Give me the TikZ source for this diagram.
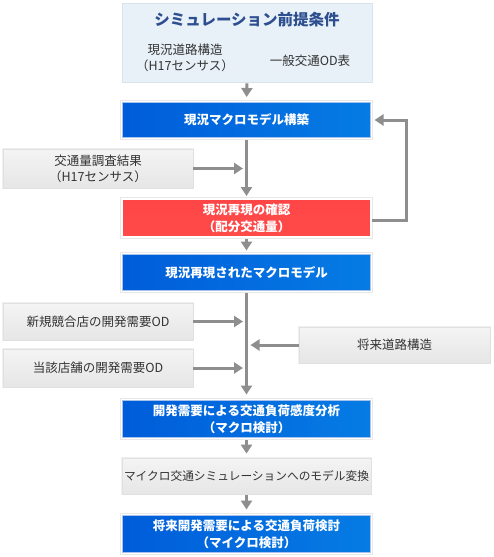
\documentclass[tikz,border=0pt]{standalone}
\usepackage{fontspec}
\setmainfont{Noto Sans CJK JP}
\usetikzlibrary{arrows.meta,fadings}
\definecolor{linegray}{HTML}{8E8E8E}
\definecolor{blueleft}{HTML}{0064E4}
\definecolor{blueright}{HTML}{0A94F4}
\definecolor{bluedark}{HTML}{0050C8}
\definecolor{redtop}{HTML}{FF4646}
\definecolor{redmid}{HTML}{FF6E6E}
\definecolor{redbot}{HTML}{FF4A4A}
\definecolor{graytop}{HTML}{F4F4F4}
\definecolor{graymid}{HTML}{F9F9F9}
\definecolor{graybot}{HTML}{E6E6E6}
\definecolor{grayedge}{HTML}{E0E0E0}
\definecolor{textgray}{HTML}{333333}
\definecolor{titleblue}{HTML}{2D4E8F}
\definecolor{premfill}{HTML}{E8F1F8}
\definecolor{premedge}{HTML}{D8E3EC}
\tikzfading[name=edgefade, top color=transparent!65, middle color=transparent!100, bottom color=transparent!65]
\begin{document}
\begin{tikzpicture}[x=1pt,y=-1pt,
  flow/.style={line width=3pt, draw=linegray, -{Triangle[width=11pt,length=9pt]}},
  framed/.style={preaction={draw=black!9, line width=4pt}, draw=white, line width=2pt},
  bluebox/.style={framed, rectangle, minimum width=249pt, left color=blueleft, right color=blueright,
     postaction={fill=bluedark, path fading=edgefade},
     text=white, font=\bfseries\fontsize{12.5pt}{17pt}\selectfont, align=center, inner sep=0pt},
  redbox/.style={framed, rectangle, minimum width=249pt, top color=redtop, middle color=redmid, bottom color=redbot,
     text=white, font=\bfseries\fontsize{12.5pt}{17pt}\selectfont, align=center, inner sep=0pt},
  graybox/.style={rectangle, preaction={draw=black!6, line width=2.5pt}, draw=grayedge, line width=0.8pt,
     top color=graytop, middle color=graymid, bottom color=graybot,
     text=textgray, font=\fontsize{12.5pt}{16pt}\selectfont, align=center, inner sep=0pt},
  premtext/.style={text=textgray, font=\fontsize{12.5pt}{16pt}\selectfont, align=center, inner sep=0pt}
]
\useasboundingbox (0,0) rectangle (493,557);
\fill[white] (0,0) rectangle (493,557);

% premise box
\node[rectangle, draw=premedge, fill=premfill, line width=0.8pt, minimum width=250pt, minimum height=79pt, inner sep=0pt] (prem) at (247,42.5) {};
\node[text=titleblue, font=\bfseries\fontsize{15.5pt}{18pt}\selectfont, inner sep=0pt] (title) at (247,20) {シミュレーション前提条件};
\node[premtext] (road0) at (185,58) {現況道路構造\\（H17センサス）};
\node[premtext] (odt) at (310,61) {一般交通OD表};

% main column
\node[bluebox, minimum height=36pt] (m1) at (246.5,120) {現況マクロモデル構築};
\node[graybox, minimum width=190pt, minimum height=39pt] (obs) at (98,168.5) {交通量調査結果\\（H17センサス）};
\node[redbox, minimum height=38pt] (chk) at (246.5,218) {現況再現の確認\\（配分交通量）};
\node[bluebox, minimum height=37pt] (m2) at (246.5,272.5) {現況再現されたマクロモデル};
\node[graybox, minimum width=190pt, minimum height=37pt] (od1) at (98,321.5) {新規競合店の開発需要OD};
\node[graybox, minimum width=190pt, minimum height=38pt] (od2) at (98,368) {当該店舗の開発需要OD};
\node[graybox, minimum width=191pt, minimum height=36pt] (fut) at (394.5,345) {将来道路構造};
\node[bluebox, minimum height=38pt] (ana) at (246.5,419) {開発需要による交通負荷感度分析\\（マクロ検討）};
\node[graybox, minimum width=249pt, minimum height=36pt, font=\fontsize{11.7pt}{14pt}\selectfont] (conv) at (246.5,476) {マイクロ交通シミュレーションへのモデル変換};
\node[bluebox, minimum height=38pt] (fin) at (246.5,534) {将来開発需要による交通負荷検討\\（マイクロ検討）};

% connectors
\draw[flow, shorten >=4pt, shorten <=1pt] (prem.south) -- (m1.north);
\draw[flow, shorten >=2pt, shorten <=1pt] (m1.south) -- (chk.north);
\draw[flow, shorten >=3.5pt] (obs.east) -- (obs.east -| m1.south);
\coordinate (fb1) at (406,220);
\coordinate (fb2) at (406,120);
\draw[flow, shorten >=2.5pt, line join=miter] (chk.east |- fb1) -- (fb1) -- (fb2) -- (m1.east);
\draw[flow, shorten >=2.5pt, shorten <=1pt] (chk.south) -- (m2.north);
\draw[flow, shorten >=4.5pt, shorten <=1pt] (m2.south) -- (ana.north);
\draw[flow, shorten >=3.5pt] (od1.east) -- (od1.east -| m2.south);
\draw[flow, shorten >=3.5pt] (od2.east) -- (od2.east -| m2.south);
\draw[flow, shorten >=4pt] (fut.west) -- (fut.west -| m2.south);
\draw[flow, shorten >=4pt, shorten <=1pt] (ana.south) -- (conv.north);
\draw[flow, shorten >=4.5pt, shorten <=1pt] (conv.south) -- (fin.north);
\end{tikzpicture}
\end{document}
